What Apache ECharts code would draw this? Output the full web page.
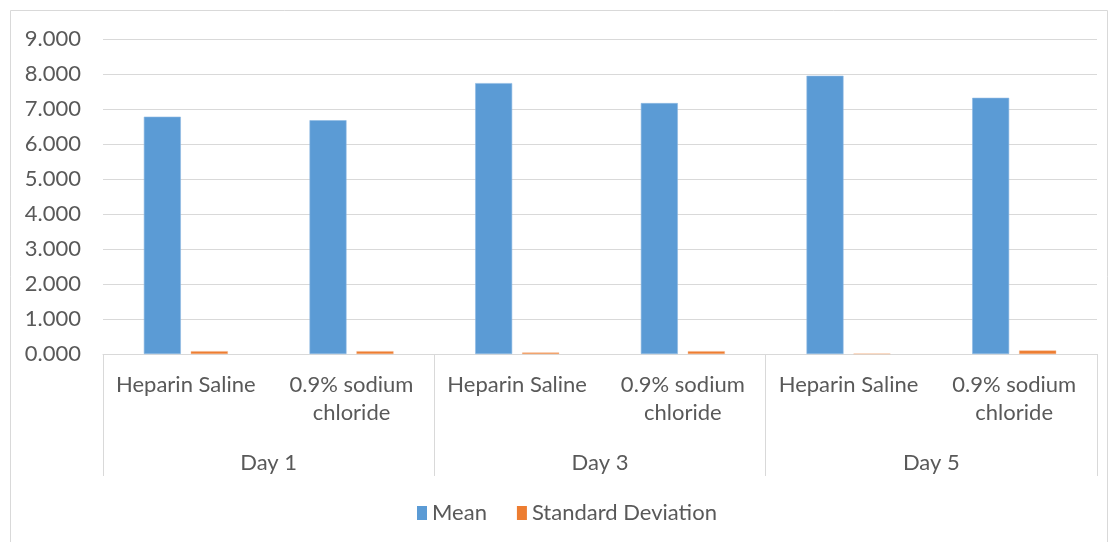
<!DOCTYPE html>
<html>
<head>
<meta charset="utf-8">
<script src="https://cdn.jsdelivr.net/npm/echarts@6/dist/echarts.min.js"></script>
<style>
  html, body { margin: 0; padding: 0; background: #fff; }
  #chart { width: 1110px; height: 542px; }
</style>
</head>
<body>
<div id="chart"></div>
<script>
// Groups and treatments along the two-level category axis
const days = ['Day 1', 'Day 3', 'Day 5'];
const categories = ['Heparin Saline', '0.9% sodium\nchloride',
                    'Heparin Saline', '0.9% sodium\nchloride',
                    'Heparin Saline', '0.9% sodium\nchloride'];

// Measured values per treatment and day
const meanValues = [6.78, 6.68, 7.74, 7.17, 7.95, 7.32];
const sdValues = [0.08, 0.08, 0.04, 0.08, 0.01, 0.10];

const yTicks = { min: 0, max: 9, interval: 1 };

const textColor = '#595959';
const font = 'Lato, "Open Sans", sans-serif';
const fontSize = 22;

const chart = echarts.init(document.getElementById('chart'));
chart.setOption({
  animation: false,
  backgroundColor: '#fff',
  textStyle: { fontFamily: font },
  graphic: [{
    type: 'rect',
    shape: { x: 10.5, y: 10.5, width: 1097, height: 540 },
    style: { fill: 'none', stroke: '#D9D9D9', lineWidth: 1 },
    silent: true
  }],
  grid: { left: 103, right: 13, top: 39, bottom: 188, containLabel: false },
  legend: {
    bottom: 13,
    left: 412,
    itemWidth: 10,
    itemHeight: 14,
    itemGap: 30,
    icon: 'rect',
    itemStyle: { borderWidth: 0 },
    textStyle: { color: textColor, fontSize: fontSize, fontFamily: font },
    data: ['Mean', 'Standard Deviation']
  },
  xAxis: [{
    type: 'category',
    data: categories,
    position: 'bottom',
    axisLine: { show: true, lineStyle: { color: '#D9D9D9', width: 1 } },
    axisTick: { show: false },
    axisLabel: { color: textColor, fontSize: fontSize, fontFamily: font, margin: 17, lineHeight: 28, interval: 0 }
  }, {
    type: 'category',
    data: days,
    position: 'bottom',
    axisLine: { show: false },
    axisTick: { show: true, length: 122, interval: 0, lineStyle: { color: '#D9D9D9', width: 1 } },
    axisLabel: { color: textColor, fontSize: fontSize, fontFamily: font, margin: 98, interval: 0 },
    splitLine: { show: false }
  }],
  yAxis: {
    type: 'value',
    min: yTicks.min,
    max: yTicks.max,
    interval: yTicks.interval,
    axisLine: { show: false },
    axisTick: { show: false },
    axisLabel: { color: textColor, fontSize: fontSize, fontFamily: font, margin: 22,
                 formatter: v => v.toFixed(3) },
    splitLine: { lineStyle: { color: '#D9D9D9', width: 1 } }
  },
  series: [{
    name: 'Mean',
    type: 'bar',
    xAxisIndex: 0,
    data: meanValues,
    barWidth: 37,
    barGap: '27%',
    itemStyle: { color: '#5B9BD5', borderColor: '#8DB8E2', borderWidth: 0.6 }
  }, {
    name: 'Standard Deviation',
    type: 'bar',
    xAxisIndex: 0,
    data: sdValues,
    barWidth: 37,
    itemStyle: { color: '#ED7D31', borderColor: '#F4B183', borderWidth: 0.4 }
  }]
});
</script>
</body>
</html>
